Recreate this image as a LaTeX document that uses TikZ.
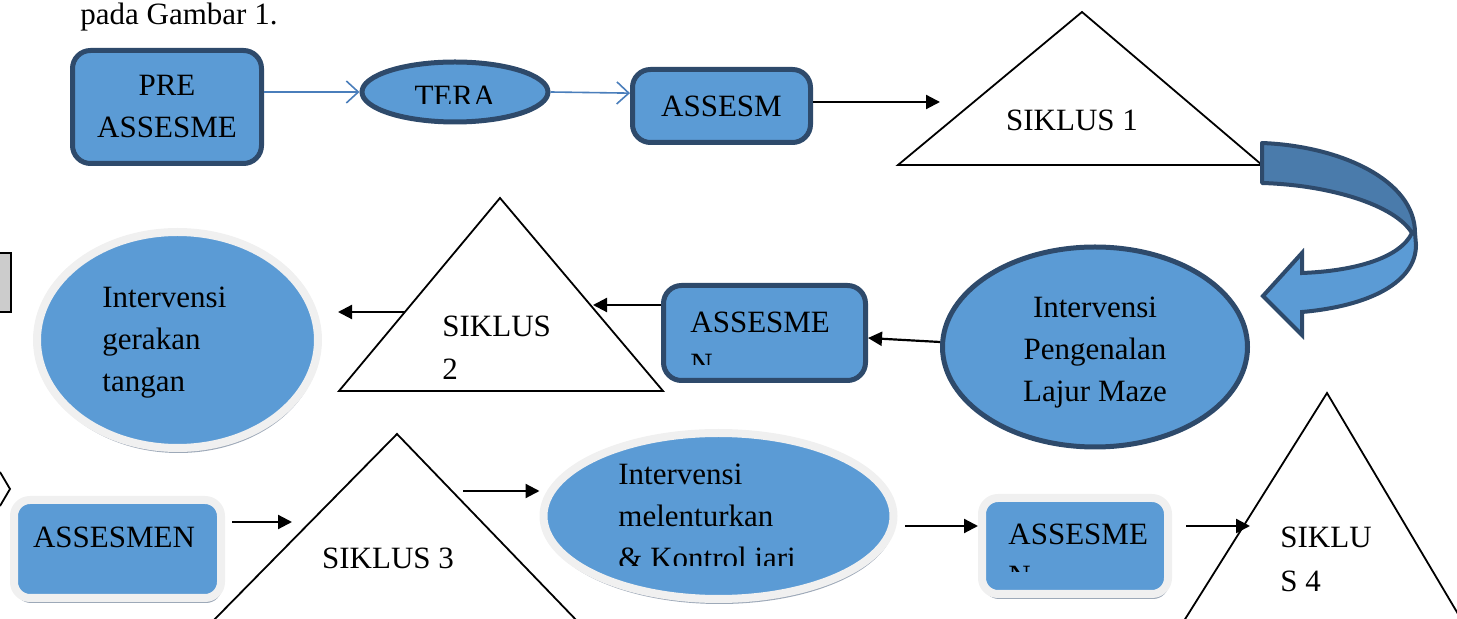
\documentclass[tikz,border=0pt]{standalone}
\usepackage{fontspec}
\setmainfont{Liberation Serif}
\usepackage{tikz}
\usetikzlibrary{shapes.geometric}
\usetikzlibrary{arrows.meta}
\usetikzlibrary{shadows}
\definecolor{fillb}{HTML}{5B9BD5}
\definecolor{edgeb}{HTML}{2E4A6B}
\definecolor{darkb}{HTML}{4A7BAB}
\definecolor{rimc}{HTML}{F0F0F0}
\definecolor{shd}{HTML}{8593A6}
\definecolor{lineb}{HTML}{4A7EBB}

\begin{document}
\begin{tikzpicture}[x=0.5pt,y=-0.5pt]
\tikzstyle{txt}=[font=\fontsize{15.5}{21}\selectfont,inner sep=0pt]
\tikzstyle{box}=[txt,draw=edgeb,fill=fillb,line width=2.5pt,rounded corners=9pt,shape=rectangle,align=center]
\tikzstyle{oval}=[txt,draw=edgeb,fill=fillb,line width=2.5pt,shape=ellipse,align=center]
\tikzstyle{softbox}=[draw=rimc,fill=fillb,line width=4pt,rounded corners=8pt,shape=rectangle,
  drop shadow={shadow xshift=0.5pt,shadow yshift=-2.5pt,fill=shd,opacity=0.8}]
\tikzstyle{softoval}=[draw=rimc,fill=fillb,line width=4pt,shape=ellipse,
  drop shadow={shadow xshift=0.5pt,shadow yshift=-2.5pt,fill=shd,opacity=0.8}]
\tikzstyle{arr}=[-{Triangle[length=7pt,width=7pt]},line width=1.1pt]
\tikzstyle{bl}=[-{Straight Barb[length=6pt,width=11pt]},draw=lineb,line width=0.8pt]
\tikzstyle{tri}=[draw,line width=0.9pt,line join=miter]

\useasboundingbox (0,0) rectangle (1457,619);
\clip (0,0) rectangle (1457,619);

\node[txt,anchor=base west](cap) at (80,25){pada Gambar 1.};
%
% row 1
\node[box,minimum width=94.5pt,minimum height=56.5pt](pre) at (167,107){PRE\\ASSESME};
\node[oval,minimum width=93pt,minimum height=30pt](tera) at (455,92){};
\begin{scope}
\clip (400,80) rectangle (510,104);
\node[txt,anchor=base](teratxt) at (455,107){TERA};
\end{scope}
\node[box,minimum width=89pt,minimum height=36.5pt](assm) at (721.5,106){ASSESM};
\draw[tri] (1082,12) coordinate (s1top) -- (1262,165) coordinate (s1r) -- (898,165) coordinate (s1l) -- cycle;
\node[txt](s1) at (1072,120){SIKLUS 1};
%
\draw[bl] (pre.east |- tera.west) -- (tera.west);
\draw[bl] (tera.east) -- (assm.172);
\coordinate (s1in) at (940,102);
\draw[arr] (assm.east |- s1in) -- (s1in);
%
% curved arrow
\draw[draw=edgeb,fill=darkb,line width=2pt,line join=round]
  (1262,143) .. controls (1340,146) and (1415,180) .. (1415,233)
  -- (1412,233) .. controls (1395,205) and (1330,185) .. (1262,183) -- cycle;
\draw[draw=edgeb,fill=fillb,line width=2pt,line join=miter]
  (1412,233) .. controls (1400,258) and (1355,271) .. (1302,273)
  -- (1302,253) -- (1263,296) -- (1302,335) -- (1302,312)
  .. controls (1370,306) and (1416,282) .. (1416,245) -- (1415,233) -- cycle;
%
% row 2
\node[oval,minimum width=152.5pt,minimum height=100pt](peng) at (1095,347){};
\node[txt,align=center](pengt) at (1095,353){Intervensi\\Pengenalan\\Lajur Maze};
\node[box,minimum width=101pt,minimum height=47.5pt](asm2) at (764.5,333){};
\node[txt,anchor=base west](asm2a) at (690,333){ASSESME};
\begin{scope}
\clip (680,340) rectangle (860,365);
\node[txt,anchor=base west](asm2b) at (690,375){N};
\end{scope}
\draw[tri] (500,198) coordinate (s2top) -- (663,391) coordinate (s2r) -- (339,391) coordinate (s2l) -- cycle;
\node[txt,anchor=base west](s2a) at (442,337){SIKLUS};
\node[txt,anchor=base west](s2b) at (442,380){2};
\node[softoval,minimum width=140.5pt,minimum height=108pt](ger) at (177.5,340){};
\node[txt,anchor=base west](ger1) at (102,308){Intervensi};
\node[txt,anchor=base west](ger2) at (102,350){gerakan};
\node[txt,anchor=base west](ger3) at (102,392){tangan};
%
\draw[arr] ([yshift=2.5pt]peng.west) -- ([yshift=-2.5pt]asm2.east);
\coordinate (s2in) at (593,305);
\draw[arr] (asm2.west |- s2in) -- (s2in);
\coordinate (s2out) at (405,312);
\draw[arr] (s2out) -- ([xshift=8pt]ger.east |- s2out);
%
% left edge
\draw[fill=black!20,line width=1pt] (-5,253) rectangle (11,312);
\draw[line width=0.9pt] (0,472) -- (10,489) -- (0,506);
%
% row 3
\node[softbox,minimum width=103.5pt,minimum height=49pt](asm3) at (117.5,549){};
\node[txt](asm3t) at (114,537){ASSESMEN};
\draw[tri] (397,434) coordinate (s3top) -- (580,624) coordinate (s3r) -- (210,624) coordinate (s3l) -- cycle;
\node[txt,anchor=base](s3) at (388,569){SIKLUS 3};
\node[softoval,minimum width=175pt,minimum height=83pt](mel) at (718.5,516){};
\node[txt,anchor=base west](mel1) at (618,485){Intervensi};
\node[txt,anchor=base west](mel2) at (618,527){melenturkan};
\begin{scope}
\clip (600,540) rectangle (880,566);
\node[txt,anchor=base west](mel3) at (618,569){\& Kontrol jari};
\end{scope}
\node[softbox,minimum width=93pt,minimum height=48pt](asm4) at (1075,546){};
\node[txt,anchor=base west](asm4a) at (1008,545){ASSESME};
\begin{scope}
\clip (1000,552) rectangle (1160,572);
\node[txt,anchor=base west](asm4b) at (1008,587){N};
\end{scope}
\draw[tri] (1327,393) coordinate (s4top) -- (1464,624) coordinate (s4r) -- (1182,624) coordinate (s4l) -- cycle;
\node[txt,anchor=base west](s4a) at (1280,548){SIKLU};
\node[txt,anchor=base west](s4b) at (1280,592){S 4};
%
\coordinate (s3in) at (292,522);
\draw[arr] ([xshift=3.5pt]asm3.east |- s3in) -- (s3in);
\coordinate (s3out) at (463,491);
\draw[arr] (s3out) -- (s3out -| mel.west);
\coordinate (m4) at (905,526);
\draw[arr] (m4) -- (m4 -| asm4.west);
\coordinate (s4in) at (1250,526);
\draw[arr] ([xshift=7pt]asm4.east |- s4in) -- (s4in);
\end{tikzpicture}
\end{document}
